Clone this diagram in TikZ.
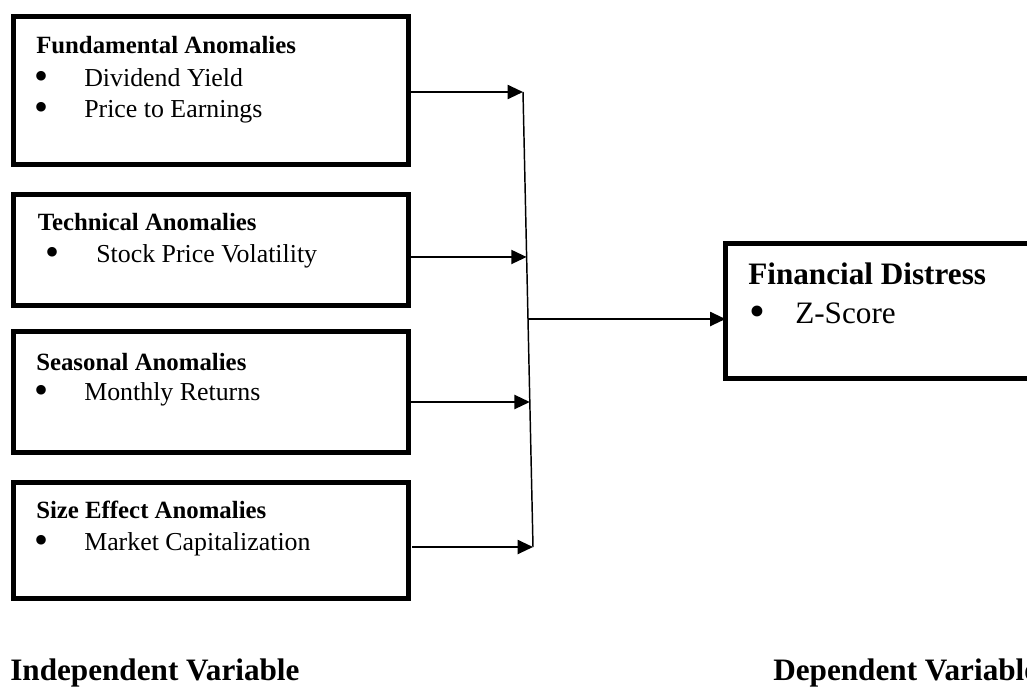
\documentclass[tikz,border=0pt]{standalone}
\usepackage{fontspec}
\setmainfont{Liberation Serif}
\usetikzlibrary{arrows.meta,calc}
\begin{document}
\begin{tikzpicture}[x=0.75pt,y=-0.75pt,
  box/.style={draw,line width=3.75pt,anchor=north west,inner sep=0pt,outer sep=0pt},
  ttl/.style={anchor=base west,inner sep=0pt,font=\fontsize{18.6}{22}\selectfont\bfseries},
  itm/.style={anchor=base west,inner sep=0pt,font=\fontsize{19.4}{23}\selectfont},
  bul/.style={anchor=center,inner sep=0pt,font=\fontsize{30}{30}\selectfont},
  bigttl/.style={anchor=base west,inner sep=0pt,font=\fontsize{23.4}{28}\selectfont\bfseries},
  bigitm/.style={anchor=base west,inner sep=0pt,font=\fontsize{23.4}{28}\selectfont},
  bigbul/.style={anchor=center,inner sep=0pt,font=\fontsize{34}{34}\selectfont},
  arr/.style={line width=1.5pt,-{Triangle[length=11.5pt,width=10.5pt]}},
]
\useasboundingbox (0,0) rectangle (1027,686);
\clip (0,0) rectangle (1027,686);

% boxes
\node[box,minimum width=296.6pt,minimum height=111pt] (b1) at (13,16.5) {};
\node[box,minimum width=296.6pt,minimum height=83.25pt] (b2) at (13,194) {};
\node[box,minimum width=296.6pt,minimum height=90.75pt] (b3) at (13,331.5) {};
\node[box,minimum width=296.6pt,minimum height=87pt] (b4) at (13,482) {};
\node[box,minimum width=300pt,minimum height=101.25pt] (fd) at (725.5,243) {};

% box texts
\node[ttl] (t1) at (36,53) {Fundamental Anomalies};
\node[bul] (u11) at (42,80) {•};
\node[itm] (i11) at (84,86) {Dividend Yield};
\node[bul] (u12) at (42,111) {•};
\node[itm] (i12) at (84,117) {Price to Earnings};

\node[ttl] (t2) at (37.5,230) {Technical Anomalies};
\node[bul] (u21) at (53,256) {•};
\node[itm] (i21) at (96,262) {Stock Price Volatility};

\node[ttl] (t3) at (36,370) {Seasonal Anomalies};
\node[bul] (u31) at (42,394) {•};
\node[itm] (i31) at (84,400) {Monthly Returns};

\node[ttl] (t4) at (36,518) {Size Effect Anomalies};
\node[bul] (u41) at (42,544) {•};
\node[itm] (i41) at (84,550) {Market Capitalization};

\node[bigttl] (tf) at (748,284) {Financial Distress};
\node[bigbul] (uf) at (757,316) {•};
\node[bigitm] (if) at (795,323) {Z-Score};

\node[bigttl] (lind) at (10,680) {Independent Variable};
\node[bigttl] (ldep) at (773,680) {Dependent Variable};

% connector
\coordinate (vt) at (523,92);
\coordinate (vb) at (533,547);
\coordinate (c2) at ($(vt)!0.3626!(vb)$);
\coordinate (c3) at ($(vt)!0.6813!(vb)$);
\coordinate (cm) at ($(vt)!0.4989!(vb)$);
\draw[line width=1.1pt] (vt) -- (vb);

\draw[arr] (vt -| b1.east) -- (vt);
\draw[arr] (c2 -| b2.east) -- (c2);
\draw[arr] (c3 -| b3.east) -- (c3);
\draw[arr] ($(vb -| b4.east)+(4,0)$) -- (vb);
\draw[arr] (cm) -- (cm -| fd.west);
\end{tikzpicture}
\end{document}
